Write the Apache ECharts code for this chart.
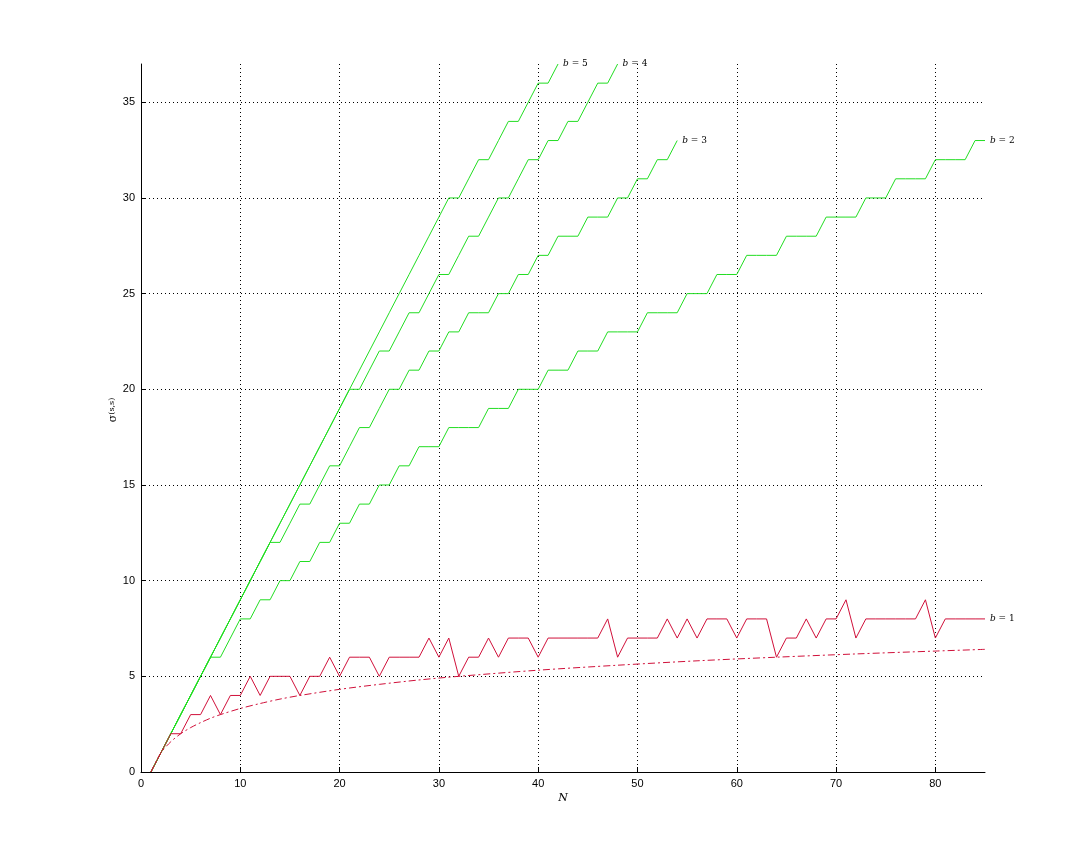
<!DOCTYPE html>
<html>
<head>
<meta charset="utf-8">
<script src="https://cdn.jsdelivr.net/npm/echarts@6/dist/echarts.min.js"></script>
<style>
  html, body { margin: 0; padding: 0; background: #fff; }
  #chart { width: 1088px; height: 868px; }
</style>
</head>
<body>
<div id="chart"></div>
<script>
// values, index i -> N = i + 1
var b1 = [0,1,2,2,3,3,4,3,4,4, 5,4,5,5,5,4,5,5,6,5, 6,6,6,5,6,6,6,6,7,6,
          7,5,6,6,7,6,7,7,7,6, 7,7,7,7,7,7,8,6,7,7, 7,7,8,7,8,7,8,8,8,7,
          8,8,8,6,7,7,8,7,8,8, 9,7,8,8,8,8,8,8,9,7, 8,8,8,8,8];
var b2 = [0,1,2,3,4,5,6,6,7,8, 8,9,9,10,10,11,11,12,12,13, 13,14,14,15,15,16,16,17,17,17,
          18,18,18,18,19,19,19,20,20,20, 21,21,21,22,22,22,23,23,23,23,
          24,24,24,24,25,25,25,26,26,26, 27,27,27,27,28,28,28,28,29,29,
          29,29,30,30,30,31,31,31,31,32, 32,32,32,33,33];
var b3 = [0,1,2,3,4,5,6,7,8,9, 10,11,12,12,13,14,14,15,16,16, 17,18,18,19,20,20,21,21,22,22,
          23,23,24,24,24,25,25,26,26,27, 27,28,28,28,29,29,29,30,30,31, 31,32,32,33];
var b4 = [0,1,2,3,4,5,6,7,8,9, 10,11,12,13,14,15,16,17,18,19, 20,20,21,22,22,23,24,24,25,26,
          26,27,28,28,29,30,30,31,32,32, 33,33,34,34,35,36,36,37];
var b5 = [0,1,2,3,4,5,6,7,8,9, 10,11,12,13,14,15,16,17,18,19, 20,21,22,23,24,25,26,27,28,29,
          30,30,31,32,32,33,34,34,35,36, 36,37];

// dash-dot reference curve
var refN = [1,2,3,4,5,6,7,8,10,12,14,16,20,24,28,32,40,48,56,64,72,80,85];
var refV = [0,1,1.58,2,2.32,2.58,2.81,3,3.32,3.58,3.81,4,4.32,4.58,4.81,5,5.32,5.58,5.81,6,6.17,6.32,6.41];

var xTicks = [0,10,20,30,40,50,60,70,80];
var yTicks = [0,5,10,15,20,25,30,35];

var GREEN = '#22dd22';
var RED = '#d0103a';

function pairs(vals) {
  return vals.map(function(v, i) { return [i + 1, v]; });
}

function stepSeries(name, vals, color, label) {
  return {
    name: name,
    type: 'line',
    data: pairs(vals),
    symbol: 'none',
    lineStyle: { color: color, width: 1 },
    endLabel: {
      show: true,
      distance: 5,
      formatter: '{i|b} = ' + label,
      color: '#000',
      fontSize: 9,
      fontFamily: 'DejaVu Serif',
      rich: { i: { fontStyle: 'italic', fontSize: 9, fontFamily: 'DejaVu Serif', color: '#000' } }
    }
  };
}

var chart = echarts.init(document.getElementById('chart'), null, { renderer: 'canvas' });

var axisFont = { color: '#000', fontSize: 11, fontFamily: 'Liberation Sans' };

chart.setOption({
  animation: false,
  backgroundColor: '#fff',
  grid: { left: 141, right: 103, top: 64, bottom: 96 },
  xAxis: {
    type: 'value',
    min: 0, max: 85, interval: 10,
    name: 'N',
    nameLocation: 'middle',
    nameGap: 21,
    nameMoveOverlap: false,
    nameTextStyle: { color: '#000', fontSize: 11, fontStyle: 'italic', fontFamily: 'DejaVu Serif' },
    axisLine: { show: true, lineStyle: { color: '#000', width: 1 } },
    axisTick: { show: true, inside: true, length: 5, lineStyle: { color: '#000' } },
    axisLabel: Object.assign({ margin: 6, showMaxLabel: false,
      formatter: function(v) { return xTicks.indexOf(v) >= 0 ? String(v) : ''; } }, axisFont),
    splitLine: { show: true, showMinLine: false, showMaxLine: false,
      lineStyle: { color: '#000', type: [1, 3], width: 1 } }
  },
  yAxis: {
    type: 'value',
    min: 0, max: 37, interval: 5,
    name: '{a|σ}{s|(s,s)}',
    nameLocation: 'middle',
    nameRotate: 90,
    nameGap: 22,
    nameMoveOverlap: false,
    nameTextStyle: {
      color: '#000',
      padding: [0, 0, 0, 16],
      rich: {
        a: { fontSize: 11, fontFamily: 'DejaVu Serif', color: '#000', verticalAlign: 'bottom' },
        s: { fontSize: 8, fontFamily: 'DejaVu Serif', color: '#000', verticalAlign: 'top' }
      }
    },
    axisLine: { show: true, lineStyle: { color: '#000', width: 1 } },
    axisTick: { show: true, inside: true, length: 5, lineStyle: { color: '#000' } },
    axisLabel: Object.assign({ margin: 6, showMaxLabel: false,
      formatter: function(v) { return yTicks.indexOf(v) >= 0 ? String(v) : ''; } }, axisFont),
    splitLine: { show: true, showMinLine: false, showMaxLine: false,
      lineStyle: { color: '#000', type: [1, 3], width: 1 } }
  },
  series: [
    stepSeries('b2', b2, GREEN, '2'),
    stepSeries('b3', b3, GREEN, '3'),
    stepSeries('b4', b4, GREEN, '4'),
    stepSeries('b5', b5, GREEN, '5'),
    stepSeries('b1', b1, RED, '1'),
    {
      name: 'ref',
      type: 'line',
      data: refN.map(function(n, i) { return [n, refV[i]]; }),
      symbol: 'none',
      smooth: 0.3,
      lineStyle: { color: RED, width: 1, type: [7, 3, 2, 3] }
    }
  ]
});
</script>
</body>
</html>
